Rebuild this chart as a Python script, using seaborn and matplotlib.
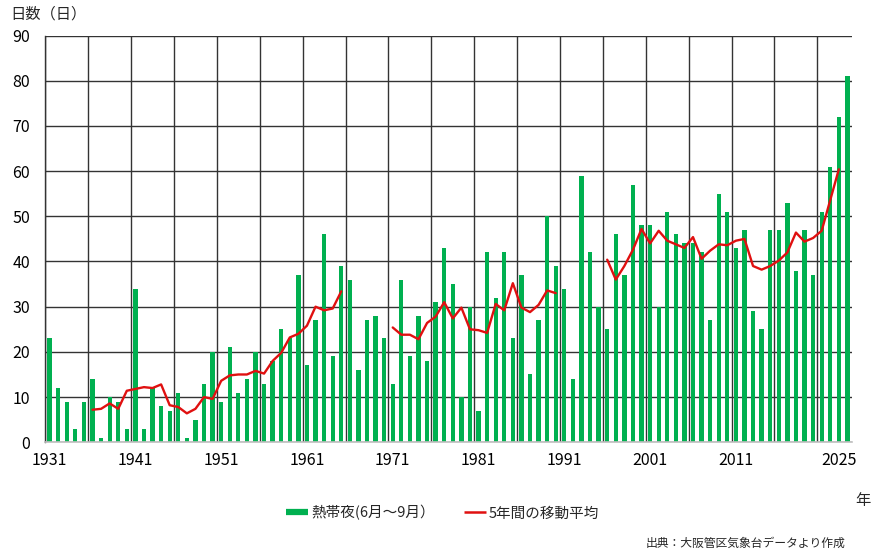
import pandas as pd
import numpy as np
import matplotlib.pyplot as plt
from matplotlib.lines import Line2D
import seaborn as sns

sns.set_theme(style='white')
plt.rcParams['font.family'] = ['Noto Sans CJK JP', 'DejaVu Sans']

# 熱帯夜の日数（6月～9月）, 1931年から順に
nights = [23, 12, 9, 3, 9, 14, 1, 10, 9, 3,
          34, 3, 12, 8, 7, 11, 1, 5, 13, 20,
          9, 21, 11, 14, 20, 13, 18, 25, 23, 37,
          17, 27, 46, 19, 39, 36, 16, 27, 28, 23,
          13, 36, 19, 28, 18, 31, 43, 35, 10, 30,
          7, 42, 32, 42, 23, 37, 15, 27, 50, 39,
          34, 14, 59, 42, 30, 25, 46, 37, 57, 48,
          48, 30, 51, 46, 44, 44, 42, 27, 55, 51,
          43, 47, 29, 25, 47, 47, 53, 38, 47, 37,
          51, 61, 72, 81]

# 5年間の移動平均（途切れている3区間, 開始は棒の番号）
ma1_start = 5
ma1 = [7.2, 7.4, 8.6, 7.4, 11.4, 11.8, 12.2, 12.0, 12.8, 8.2,
       7.8, 6.4, 7.4, 10.0, 9.6, 13.6, 14.8, 15.0, 15.0, 15.8,
       15.2, 18.0, 19.8, 23.2, 24.0, 25.8, 30.0, 29.2, 29.6, 33.4]
ma2_start = 40
ma2 = [25.4, 23.8, 23.8, 22.8, 26.4, 27.8, 31.0, 27.4, 29.8, 25.0,
       24.8, 24.2, 30.6, 29.2, 35.2, 29.8, 28.8, 30.4, 33.6, 33.0]
ma3_start = 65
ma3 = [40.4, 36.0, 39.0, 42.6, 47.2, 44.0, 46.8, 44.6, 43.8, 43.0,
       45.4, 40.6, 42.4, 43.8, 43.6, 44.6, 45.0, 39.0, 38.2, 39.0,
       40.2, 42.0, 46.4, 44.4, 45.2, 46.8, 53.6, 60.4]

# 目盛りラベル
xtick_idx = [0, 10, 20, 30, 40, 50, 60, 70, 80, 92]
xtick_labels = ['1931', '1941', '1951', '1961', '1971', '1981', '1991', '2001', '2011', '2025']

green = '#00B050'
red = '#E01010'

bars = pd.DataFrame({'idx': np.arange(len(nights)), 'nights': nights})

ma_df = pd.concat([
    pd.DataFrame({'idx': np.arange(s, s + len(v)), 'ma': v, 'seg': k})
    for k, (s, v) in enumerate([(ma1_start, ma1), (ma2_start, ma2), (ma3_start, ma3)])
])

fig, ax = plt.subplots(figsize=(8.73, 5.55), dpi=100)
fig.subplots_adjust(left=0.0519, right=0.9756, bottom=0.2031, top=0.936)

sns.barplot(data=bars, x='idx', y='nights', color=green, saturation=1,
            width=0.5, linewidth=0, ax=ax)
sns.lineplot(data=ma_df, x='idx', y='ma', units='seg', estimator=None,
             color=red, lw=1.7, ax=ax, legend=False)

ax.set_xlim(-0.5, len(nights) - 0.5)
ax.set_ylim(0, 90)
ax.set_yticks(range(0, 91, 10))
ax.set_xticks(xtick_idx, xtick_labels)
ax.set_xticks(np.arange(-0.5, len(nights), 5), minor=True)
ax.set_xlabel('')
ax.set_ylabel('')

ax.set_axisbelow(True)
ax.grid(True, which='minor', axis='x', color='#333333', lw=1.0)
ax.grid(True, which='major', axis='y', color='#333333', lw=1.0)
ax.grid(False, which='major', axis='x')

for s in ['top', 'right']:
    ax.spines[s].set_visible(False)
ax.spines['left'].set_color('#333333')
ax.spines['left'].set_linewidth(1.0)
ax.spines['bottom'].set_color('#BFBFBF')
ax.spines['bottom'].set_linewidth(1.2)

ax.tick_params(axis='both', which='both', length=0, labelsize=11.5, colors='black')
ax.tick_params(axis='y', pad=11)
ax.tick_params(axis='x', pad=7)

fig.text(0.0115, 0.975, '日数（日）', ha='left', va='center', fontsize=11)
fig.text(0.9885, 0.098, '年', ha='center', va='center', fontsize=11)
fig.text(0.968, 0.0216, '出典：大阪管区気象台データより作成', ha='right', va='center', fontsize=8.5)

handles = [Line2D([], [], color=green, lw=4.5, solid_capstyle='butt'),
           Line2D([], [], color=red, lw=1.8, solid_capstyle='butt')]
fig.legend(handles, ['熱帯夜(6月～9月）', '5年間の移動平均'], loc='center',
           bbox_to_anchor=(0.507, 0.076), ncol=2, frameon=False, fontsize=10.5,
           handlelength=1.5, handletextpad=0.2, columnspacing=2.0)

fig.savefig('out.png', dpi=100)
